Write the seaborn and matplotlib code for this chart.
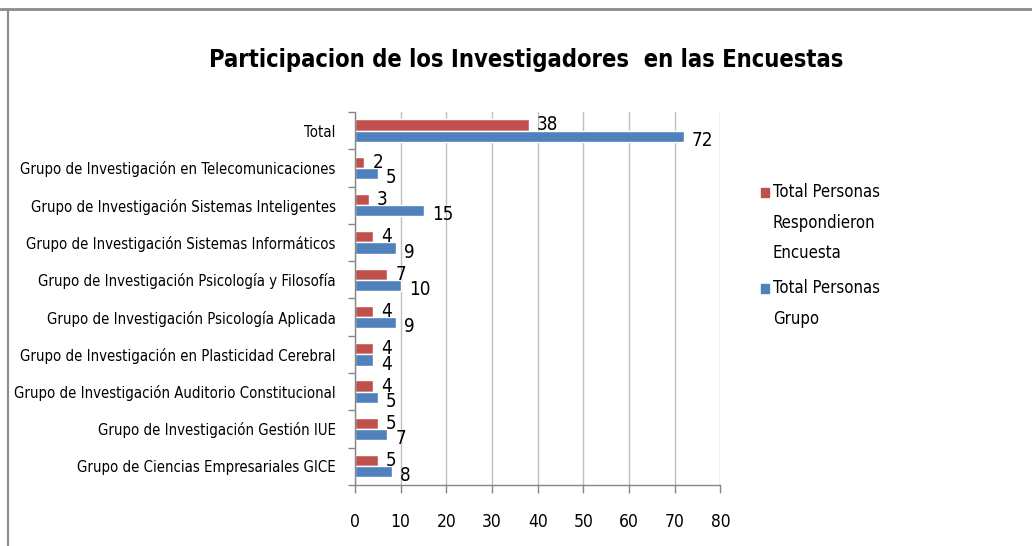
import matplotlib
matplotlib.use("Agg")
import matplotlib.pyplot as plt
import seaborn as sns
import pandas as pd
from matplotlib.lines import Line2D
from matplotlib.patches import Rectangle
from matplotlib.ticker import FixedLocator
from matplotlib import font_manager
from matplotlib.font_manager import FontProperties

categories = [
    "Total",
    "Grupo de Investigación en Telecomunicaciones",
    "Grupo de Investigación Sistemas Inteligentes",
    "Grupo de Investigación Sistemas Informáticos",
    "Grupo de Investigación Psicología y Filosofía",
    "Grupo de Investigación Psicología Aplicada",
    "Grupo de Investigación en Plasticidad Cerebral",
    "Grupo de Investigación Auditorio Constitucional",
    "Grupo de Investigación Gestión IUE",
    "Grupo de Ciencias Empresariales GICE",
]
respondieron = [38, 2, 3, 4, 7, 4, 4, 4, 5, 5]
grupo = [72, 5, 15, 9, 10, 9, 4, 5, 7, 8]
series_names = ["Total Personas\nRespondieron\nEncuesta", "Total Personas\nGrupo"]
colors = ["#C0504D", "#4F81BD"]
xticks = [0, 10, 20, 30, 40, 50, 60, 70, 80]
title = "Participacion de los Investigadores  en las Encuestas"

sns.set_theme(style="white")


def find_font(bold):
    best = None
    for f in font_manager.fontManager.ttflist:
        if f.style != "normal":
            continue
        w = f.weight if isinstance(f.weight, int) else (700 if "bold" in str(f.weight) else 400)
        if bold != (w >= 600):
            continue
        cond = ("condensed" in str(f.stretch)) or ("Condensed" in f.name) or ("Narrow" in f.name) \
            or ("Condensed" in f.fname) or ("Narrow" in f.fname)
        if not cond:
            continue
        if "Semi" in f.fname or "Extra" in f.fname:
            continue
        score = 0 if ("Liberation" in f.name or "Liberation" in f.fname) else 1
        if best is None or score < best[0]:
            best = (score, f.fname)
    return best[1] if best else None


reg_path = find_font(False)
bold_path = find_font(True)
if reg_path is not None:
    fp = FontProperties(fname=reg_path)
    fpb = FontProperties(fname=bold_path) if bold_path else FontProperties(fname=reg_path, weight="bold")
    lab_size, tick_size, dl_size, leg_size, title_size = 10.7, 12.5, 13.5, 12, 17
else:
    plt.rcParams["font.family"] = ["Liberation Sans", "DejaVu Sans"]
    fp = FontProperties(family=["Liberation Sans", "DejaVu Sans"])
    fpb = FontProperties(family=["Liberation Sans", "DejaVu Sans"], weight="bold")
    lab_size, tick_size, dl_size, leg_size, title_size = 10, 12, 12.5, 11.5, 16

df = pd.DataFrame({
    "cat": categories * 2,
    "val": respondieron + grupo,
    "serie": [series_names[0]] * len(categories) + [series_names[1]] * len(categories),
})

fig = plt.figure(figsize=(10.32, 5.46), dpi=100)
ax = fig.add_axes([0.344, 0.112, 0.354, 0.683])
sns.barplot(data=df, y="cat", x="val", hue="serie", order=categories,
            hue_order=series_names, palette=colors, width=0.6, orient="h",
            ax=ax, legend=False, errorbar=None, saturation=1)

ax.set_xlim(0, 80)
ax.set_ylim(len(categories) - 0.5, -0.5)
ax.set_xticks(xticks)
ax.set_xticklabels([str(t) for t in xticks])
ax.set_xlabel("")
ax.set_ylabel("")
for lbl in ax.get_yticklabels():
    lbl.set_fontproperties(fp)
    lbl.set_fontsize(lab_size)
    lbl.set_color("black")
for lbl in ax.get_xticklabels():
    lbl.set_fontproperties(fp)
    lbl.set_fontsize(tick_size)
    lbl.set_color("black")
ax.tick_params(axis="y", which="major", length=0, pad=14)
ax.yaxis.set_minor_locator(FixedLocator([i - 0.5 for i in range(len(categories) + 1)]))
ax.tick_params(axis="y", which="minor", length=5, color="#868686", width=1, left=True)
ax.tick_params(axis="x", which="major", length=6, color="#868686", width=1, bottom=True, pad=14)
ax.grid(axis="x", color="#BFBFBF", linewidth=1)
ax.set_axisbelow(True)
for s in ["top", "right"]:
    ax.spines[s].set_visible(False)
for s in ["left", "bottom"]:
    ax.spines[s].set_color("#868686")
    ax.spines[s].set_linewidth(1)

# data labels
for i, cont in enumerate(ax.containers):
    dy = 0.0 if i == 0 else 0.11
    for bar, v in zip(cont, respondieron if i == 0 else grupo):
        y = bar.get_y() + bar.get_height() / 2 + dy
        ax.text(bar.get_width() + 1.8, y, str(v), fontproperties=fp, fontsize=dl_size,
                va="center", ha="left", color="black")

fig.text(0.51, 0.89, title, ha="center", va="center", fontproperties=fpb,
         fontsize=title_size, color="black")

# legend (drawn manually so the swatch sits on the first line of each wrapped label)
W, H = 1032.0, 546.0
leg_x_sw = 761 / W
leg_x_tx = 773 / W
line_h = 30.5 / H
gap = 35.0 / H
yy = 1 - 192 / H
for name, c in zip(series_names, colors):
    lines = name.split("\n")
    fig.add_artist(Rectangle((leg_x_sw, yy - 4.5 / H), 8 / W, 9 / H,
                             transform=fig.transFigure, color=c))
    for k, ln in enumerate(lines):
        fig.text(leg_x_tx, yy - k * line_h, ln, ha="left", va="center",
                 fontproperties=fp, fontsize=leg_size, color="black")
    yy = yy - (len(lines) - 1) * line_h - gap

# outer border (top and left)
fig.add_artist(Line2D([0, 1], [0.983, 0.983], transform=fig.transFigure, color="#8C8C8C", linewidth=2))
fig.add_artist(Line2D([0.0075, 0.0075], [0, 0.983], transform=fig.transFigure, color="#8C8C8C", linewidth=1.5))

fig.savefig("out.png", dpi=100)
